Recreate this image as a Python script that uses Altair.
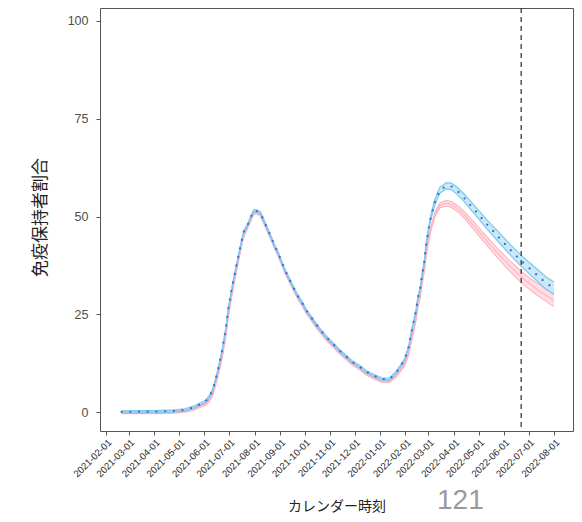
import altair as alt
import pandas as pd

# ---- data ----
dates = [
    "2021-02-20", "2021-03-15", "2021-04-05", "2021-04-25", "2021-05-08",
    "2021-05-18", "2021-05-26", "2021-06-02", "2021-06-07", "2021-06-11",
    "2021-06-17", "2021-06-22", "2021-06-27", "2021-06-30", "2021-07-04",
    "2021-07-08", "2021-07-12", "2021-07-16", "2021-07-19", "2021-07-23",
    "2021-07-27", "2021-07-31", "2021-08-04", "2021-08-08", "2021-08-13",
    "2021-08-17", "2021-08-21", "2021-08-25", "2021-08-30", "2021-09-03",
    "2021-09-07", "2021-09-12", "2021-09-17", "2021-09-22", "2021-09-28",
    "2021-10-03", "2021-10-09", "2021-10-15", "2021-10-22", "2021-10-29",
    "2021-11-05", "2021-11-13", "2021-11-20", "2021-11-28", "2021-12-07",
    "2021-12-15", "2021-12-24", "2022-01-03", "2022-01-12", "2022-01-20",
    "2022-01-25", "2022-01-31", "2022-02-05", "2022-02-08", "2022-02-11",
    "2022-02-14", "2022-02-16", "2022-02-19", "2022-02-21", "2022-02-24",
    "2022-02-26", "2022-03-01", "2022-03-04", "2022-03-09", "2022-03-15",
    "2022-03-23", "2022-03-29", "2022-04-06", "2022-04-13", "2022-04-20",
    "2022-04-28", "2022-05-11", "2022-05-25", "2022-06-08", "2022-06-22",
    "2022-07-07", "2022-07-22", "2022-08-01",
]
blue_mid = [
    0.1, 0.15, 0.2, 0.35, 0.6,
    1.2, 2.0, 2.7, 4.0, 5.7,
    10.4, 15.2, 21.3, 26.3, 31.2,
    35.5, 39.6, 43.6, 46.2, 47.6,
    49.6, 51.5, 51.4, 51.0, 48.7,
    46.8, 44.9, 42.8, 40.6, 38.5,
    36.4, 34.2, 32.1, 30.0, 28.0,
    26.1, 24.3, 22.5, 20.6, 18.9,
    17.4, 15.7, 14.4, 12.9, 11.7,
    10.4, 9.4, 8.5, 8.4, 10.0,
    11.5, 13.4, 16.8, 20.2, 23.2,
    26.1, 29.1, 31.7, 34.8, 38.5,
    42.5, 46.6, 50.0, 53.8, 56.8,
    57.9, 57.7, 56.4, 54.9, 53.2,
    51.3, 48.1, 44.9, 41.7, 38.7,
    35.9, 33.1, 31.7,
]
blue_half = [
    0.3, 0.3, 0.3, 0.3, 0.3,
    0.3, 0.3, 0.3, 0.3, 0.3,
    0.3, 0.3, 0.3, 0.3, 0.3,
    0.3, 0.3, 0.3, 0.3, 0.3,
    0.3, 0.3, 0.3, 0.3, 0.3,
    0.3, 0.3, 0.3, 0.3, 0.3,
    0.3, 0.3, 0.3, 0.3, 0.3,
    0.3, 0.3, 0.3, 0.3, 0.3,
    0.3, 0.3, 0.3, 0.3, 0.3,
    0.3, 0.3, 0.3, 0.3, 0.3,
    0.3, 0.3, 0.35, 0.4, 0.45,
    0.45, 0.45, 0.45, 0.5, 0.5,
    0.5, 0.5, 0.6, 0.7, 0.75,
    0.8, 0.85, 0.9, 0.95, 1.0,
    1.05, 1.15, 1.25, 1.35, 1.4,
    1.5, 1.55, 1.6,
]
pink_mid = [
    0.0, 0.0, 0.0, 0.1, 0.3,
    0.8, 1.5, 2.1, 3.1, 4.6,
    8.9, 13.6, 19.5, 24.6, 29.6,
    34.2, 38.4, 42.5, 45.2, 47.0,
    49.0, 50.9, 51.0, 50.5, 48.2,
    46.3, 44.4, 42.3, 40.1, 38.0,
    35.9, 33.7, 31.6, 29.5, 27.5,
    25.6, 23.8, 22.0, 20.1, 18.4,
    16.9, 15.2, 13.9, 12.4, 11.2,
    9.9, 8.9, 8.0, 7.9, 9.2,
    10.5, 12.2, 15.0, 18.2, 21.0,
    24.0, 27.0, 29.8, 32.8, 36.5,
    40.0, 43.8, 46.9, 50.6, 52.9,
    53.4, 53.1, 52.0, 50.6, 48.9,
    47.0, 43.8, 40.5, 37.4, 34.6,
    32.1, 29.9, 28.6,
]
pink_half = [
    0.35, 0.35, 0.35, 0.35, 0.35,
    0.35, 0.35, 0.35, 0.35, 0.35,
    0.35, 0.35, 0.35, 0.35, 0.35,
    0.35, 0.35, 0.35, 0.35, 0.35,
    0.35, 0.35, 0.35, 0.35, 0.35,
    0.35, 0.35, 0.35, 0.35, 0.35,
    0.35, 0.35, 0.35, 0.35, 0.35,
    0.35, 0.35, 0.35, 0.35, 0.35,
    0.35, 0.35, 0.35, 0.35, 0.35,
    0.35, 0.35, 0.35, 0.35, 0.35,
    0.35, 0.35, 0.35, 0.4, 0.45,
    0.45, 0.45, 0.45, 0.5, 0.5,
    0.5, 0.5, 0.55, 0.6, 0.65,
    0.7, 0.75, 0.8, 0.85, 0.9,
    1.0, 1.1, 1.2, 1.35, 1.45,
    1.5, 1.55, 1.6,
]
x_ticks = [
    "2021-02-01", "2021-03-01", "2021-04-01", "2021-05-01", "2021-06-01",
    "2021-07-01", "2021-08-01", "2021-09-01", "2021-10-01", "2021-11-01",
    "2021-12-01", "2022-01-01", "2022-02-01", "2022-03-01", "2022-04-01",
    "2022-05-01", "2022-06-01", "2022-07-01", "2022-08-01",
]
y_ticks = [0, 25, 50, 75, 100]
cutoff_dates = ["2022-06-22"]
page_number = ["121"]

# ---- tables ----
df = pd.DataFrame({
    "date": dates,
    "blue_mid": blue_mid,
    "blue_lo": [m - h for m, h in zip(blue_mid, blue_half)],
    "blue_hi": [m + h for m, h in zip(blue_mid, blue_half)],
    "pink_mid": pink_mid,
    "pink_lo": [m - h for m, h in zip(pink_mid, pink_half)],
    "pink_hi": [m + h for m, h in zip(pink_mid, pink_half)],
})
cut_df = pd.DataFrame({"date": cutoff_dates})
num_df = pd.DataFrame({"t": page_number})


def dt(s, h=0, mi=0):
    y, m, d = (int(v) for v in s.split("-"))
    return alt.DateTime(year=y, month=m, date=d, hours=h, minutes=mi, utc=True)


xscale = alt.Scale(type="utc", domain=[dt("2021-01-24", 16, 30), dt("2022-08-24", 3, 45)], nice=False)
yscale = alt.Scale(domain=[-4.78, 103.32], nice=False, zero=False)

xaxis = alt.Axis(
    values=[dt(s) for s in x_ticks],
    labelExpr="utcFormat(datum.value, '%Y-%m-%d')",
    labelAngle=-45, labelAlign="right", labelBaseline="top",
    labelFont="Liberation Sans", labelFontSize=9.6, labelColor="#1f1f1f",
    labelPadding=2, labelOverlap=False, labelFlush=False,
    tickSize=4, tickColor="#555555", domain=False, grid=False,
    title="カレンダー時刻", titleFont="Noto Sans CJK JP", titleFontSize=14,
    titleFontWeight="normal", titleColor="#222222",
    titleY=79, titleBaseline="alphabetic",
)
yaxis = alt.Axis(
    values=y_ticks,
    labelFont="Liberation Sans", labelFontSize=12.5, labelColor="#4d4d4d",
    labelPadding=8, tickSize=4, tickColor="#555555", domain=False, grid=False,
    title="免疫保持者割合", titleFont="Noto Sans CJK JP", titleFontSize=17,
    titleFontWeight="normal", titleColor="#222222",
    titleX=-60, titleY=209, titleAlign="center", titleBaseline="middle",
)

X = alt.X("date:T", scale=xscale, axis=xaxis)
base = alt.Chart(df)

pink_area = base.mark_area(color="#FFB6C1", opacity=0.45).encode(
    x=X, y=alt.Y("pink_lo:Q", scale=yscale, axis=yaxis), y2="pink_hi:Q")
pink_lo = base.mark_line(color="#FFB3C1", strokeWidth=1.1).encode(x=X, y=alt.Y("pink_lo:Q", scale=yscale))
pink_md = base.mark_line(color="#FFB3C1", strokeWidth=1.1).encode(x=X, y=alt.Y("pink_mid:Q", scale=yscale))
pink_hi = base.mark_line(color="#FFB3C1", strokeWidth=1.1).encode(x=X, y=alt.Y("pink_hi:Q", scale=yscale))

blue_area = base.mark_area(color="#87CEEB", opacity=0.45).encode(
    x=X, y=alt.Y("blue_lo:Q", scale=yscale), y2="blue_hi:Q")
blue_lo_l = base.mark_line(color="#7CC9EC", strokeWidth=1.2).encode(x=X, y=alt.Y("blue_lo:Q", scale=yscale))
blue_hi_l = base.mark_line(color="#7CC9EC", strokeWidth=1.2).encode(x=X, y=alt.Y("blue_hi:Q", scale=yscale))
blue_dots = base.mark_line(color="#4169E1", strokeWidth=2.2, strokeDash=[0.1, 8.6], strokeCap="round").encode(
    x=X, y=alt.Y("blue_mid:Q", scale=yscale))

cut = alt.Chart(cut_df).mark_rule(color="#3a3a3a", strokeWidth=1.3, strokeDash=[5, 4]).encode(x=X)

page = alt.Chart(num_df).mark_text(
    font="Liberation Sans", fontSize=28, color="#9a9a9a", align="left", baseline="alphabetic"
).encode(text="t:N", x=alt.value(337), y=alt.value(501))

chart = alt.layer(
    pink_area, pink_lo, pink_md, pink_hi, blue_area, blue_lo_l, blue_hi_l, blue_dots, cut, page
).properties(
    width=473, height=423,
    autosize=alt.AutoSizeParams(type="none"),
    padding={"left": 92, "top": 0, "right": 1, "bottom": 83},
).configure_view(stroke="#555555", strokeWidth=1)

chart.save("out.html", embed_options={"renderer": "svg", "actions": False})
